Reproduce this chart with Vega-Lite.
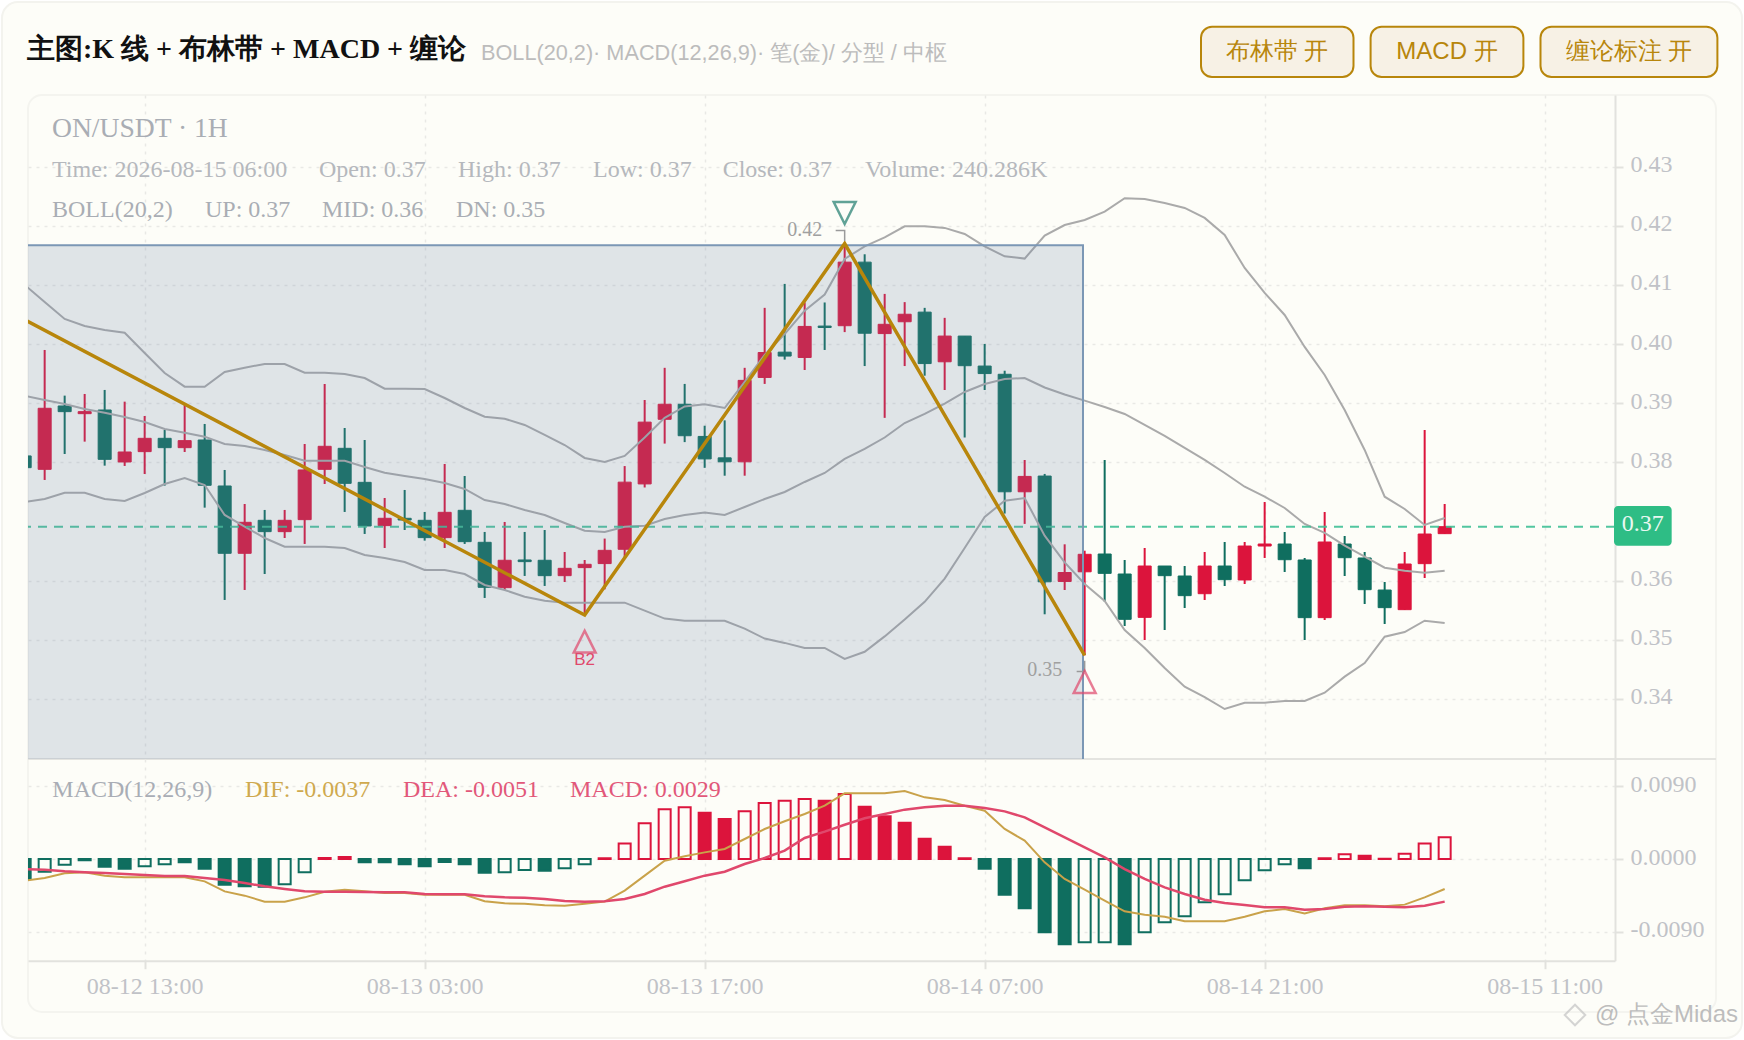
{
  "$schema": "https://vega.github.io/schema/vega-lite/v5.json",
  "background": "#ffffff",
  "padding": {"left": 1, "top": 0, "right": 1, "bottom": 1},
  "spacing": 0,
  "bounds": "flush",
  "config": {
    "font": "Liberation Serif",
    "view": {"stroke": null},
    "axis": {"title": null, "gridColor": "#e9e9e5", "gridDash": [3, 5], "gridWidth": 1.5, "labelFont": "Liberation Serif", "labelFontSize": 24, "labelColor": "#c0c2c7", "domainColor": "#e2e2de", "domainWidth": 2, "tickColor": "#e2e2de", "tickWidth": 2, "tickSize": 8, "labelOverlap": false, "labelFlush": false}
  },
  "datasets": {
    "kline": [
      {"t":"2026-08-12 07:00","open":0.38109,"high":0.3815,"low":0.3785,"close":0.37911,"up":0.41000,"mid":0.39128,"dn":0.37331,"macd":-0.00247,"dif":-0.00268,"dea":-0.00124,"state":"solid"},
      {"t":"2026-08-12 08:00","open":0.37883,"high":0.39901,"low":0.37703,"close":0.38915,"up":0.40712,"mid":0.39055,"dn":0.37381,"macd":-0.00157,"dif":-0.00235,"dea":-0.00132,"state":"hollow"},
      {"t":"2026-08-12 09:00","open":0.38954,"high":0.39129,"low":0.38142,"close":0.38858,"up":0.40425,"mid":0.38988,"dn":0.37488,"macd":-0.0007,"dif":-0.00177,"dea":-0.00152,"state":"hollow"},
      {"t":"2026-08-12 10:00","open":0.38824,"high":0.39157,"low":0.38351,"close":0.38858,"up":0.40307,"mid":0.38903,"dn":0.37488,"macd":-0.00016,"dif":-0.00165,"dea":-0.00165,"state":"solid"},
      {"t":"2026-08-12 11:00","open":0.38886,"high":0.39225,"low":0.37945,"close":0.38052,"up":0.40239,"mid":0.38841,"dn":0.37381,"macd":-0.00095,"dif":-0.00206,"dea":-0.00173,"state":"solid"},
      {"t":"2026-08-12 12:00","open":0.38007,"high":0.39027,"low":0.3794,"close":0.38176,"up":0.40193,"mid":0.38768,"dn":0.37348,"macd":-0.0012,"dif":-0.00227,"dea":-0.00185,"state":"solid"},
      {"t":"2026-08-12 13:00","open":0.38182,"high":0.38785,"low":0.37804,"close":0.38407,"up":0.3985,"mid":0.38683,"dn":0.37483,"macd":-0.0009,"dif":-0.00227,"dea":-0.00198,"state":"hollow"},
      {"t":"2026-08-12 14:00","open":0.38407,"high":0.38548,"low":0.37607,"close":0.38249,"up":0.39512,"mid":0.38565,"dn":0.37635,"macd":-0.00066,"dif":-0.00227,"dea":-0.0021,"state":"hollow"},
      {"t":"2026-08-12 15:00","open":0.38249,"high":0.38988,"low":0.38176,"close":0.38368,"up":0.3928,"mid":0.38503,"dn":0.37737,"macd":-0.00041,"dif":-0.00227,"dea":-0.0021,"state":"solid"},
      {"t":"2026-08-12 16:00","open":0.38379,"high":0.3865,"low":0.37235,"close":0.37613,"up":0.3928,"mid":0.38435,"dn":0.37618,"macd":-0.0012,"dif":-0.00276,"dea":-0.00235,"state":"solid"},
      {"t":"2026-08-12 17:00","open":0.37601,"high":0.37872,"low":0.35674,"close":0.36463,"up":0.39529,"mid":0.38311,"dn":0.37111,"macd":-0.00317,"dif":-0.004,"dea":-0.0026,"state":"solid"},
      {"t":"2026-08-12 18:00","open":0.36463,"high":0.37297,"low":0.35843,"close":0.36987,"up":0.39602,"mid":0.38278,"dn":0.36913,"macd":-0.00338,"dif":-0.00453,"dea":-0.00297,"state":"solid"},
      {"t":"2026-08-12 19:00","open":0.37021,"high":0.37196,"low":0.36113,"close":0.36829,"up":0.39664,"mid":0.3821,"dn":0.36722,"macd":-0.00342,"dif":-0.00527,"dea":-0.00338,"state":"solid"},
      {"t":"2026-08-12 20:00","open":0.36829,"high":0.37196,"low":0.36722,"close":0.37021,"up":0.39664,"mid":0.38125,"dn":0.36575,"macd":-0.00313,"dif":-0.00527,"dea":-0.00371,"state":"hollow"},
      {"t":"2026-08-12 21:00","open":0.37032,"high":0.38311,"low":0.36621,"close":0.37872,"up":0.39517,"mid":0.38029,"dn":0.36575,"macd":-0.00165,"dif":-0.00474,"dea":-0.004,"state":"hollow"},
      {"t":"2026-08-12 22:00","open":0.37883,"high":0.39326,"low":0.37635,"close":0.38272,"up":0.39517,"mid":0.38029,"dn":0.36575,"macd":0.00012,"dif":-0.00404,"dea":-0.00404,"state":"solid"},
      {"t":"2026-08-12 23:00","open":0.38238,"high":0.38582,"low":0.37162,"close":0.37646,"up":0.39495,"mid":0.38029,"dn":0.36553,"macd":0.00025,"dif":-0.00379,"dea":-0.00404,"state":"solid"},
      {"t":"2026-08-13 00:00","open":0.37663,"high":0.38379,"low":0.3679,"close":0.36925,"up":0.39427,"mid":0.37923,"dn":0.36435,"macd":-0.00041,"dif":-0.004,"dea":-0.00408,"state":"solid"},
      {"t":"2026-08-13 01:00","open":0.36931,"high":0.37398,"low":0.36553,"close":0.37055,"up":0.39246,"mid":0.37826,"dn":0.36384,"macd":-0.00041,"dif":-0.0042,"dea":-0.00412,"state":"solid"},
      {"t":"2026-08-13 02:00","open":0.37055,"high":0.37534,"low":0.36857,"close":0.37026,"up":0.39246,"mid":0.3777,"dn":0.36316,"macd":-0.00066,"dif":-0.0042,"dea":-0.00412,"state":"solid"},
      {"t":"2026-08-13 03:00","open":0.37021,"high":0.37162,"low":0.36677,"close":0.36728,"up":0.39241,"mid":0.3772,"dn":0.36181,"macd":-0.0009,"dif":-0.00441,"dea":-0.00433,"state":"solid"},
      {"t":"2026-08-13 04:00","open":0.36728,"high":0.37973,"low":0.36553,"close":0.37156,"up":0.39089,"mid":0.37652,"dn":0.36181,"macd":-0.00037,"dif":-0.00441,"dea":-0.00437,"state":"solid"},
      {"t":"2026-08-13 05:00","open":0.3719,"high":0.3777,"low":0.36621,"close":0.3666,"up":0.3892,"mid":0.37551,"dn":0.36113,"macd":-0.00066,"dif":-0.00441,"dea":-0.00437,"state":"solid"},
      {"t":"2026-08-13 06:00","open":0.36649,"high":0.36824,"low":0.35708,"close":0.35888,"up":0.38773,"mid":0.37364,"dn":0.35927,"macd":-0.00169,"dif":-0.00523,"dea":-0.00461,"state":"solid"},
      {"t":"2026-08-13 07:00","open":0.35882,"high":0.36993,"low":0.35843,"close":0.36345,"up":0.38739,"mid":0.37297,"dn":0.35843,"macd":-0.00165,"dif":-0.00548,"dea":-0.00474,"state":"hollow"},
      {"t":"2026-08-13 08:00","open":0.3635,"high":0.36824,"low":0.3608,"close":0.36322,"up":0.38633,"mid":0.37195,"dn":0.35729,"macd":-0.00136,"dif":-0.00552,"dea":-0.00478,"state":"hollow"},
      {"t":"2026-08-13 09:00","open":0.36345,"high":0.36857,"low":0.35911,"close":0.36085,"up":0.38464,"mid":0.37111,"dn":0.35662,"macd":-0.00144,"dif":-0.00573,"dea":-0.00494,"state":"solid"},
      {"t":"2026-08-13 10:00","open":0.36085,"high":0.36485,"low":0.35978,"close":0.36209,"up":0.38294,"mid":0.36976,"dn":0.35628,"macd":-0.00115,"dif":-0.00577,"dea":-0.00519,"state":"hollow"},
      {"t":"2026-08-13 11:00","open":0.36221,"high":0.3635,"low":0.3542,"close":0.36277,"up":0.38075,"mid":0.36845,"dn":0.35628,"macd":-0.00066,"dif":-0.00552,"dea":-0.00527,"state":"hollow"},
      {"t":"2026-08-13 12:00","open":0.36289,"high":0.36712,"low":0.35854,"close":0.36513,"up":0.38007,"mid":0.36823,"dn":0.35628,"macd":0.0001,"dif":-0.00527,"dea":-0.00523,"state":"solid"},
      {"t":"2026-08-13 13:00","open":0.36531,"high":0.37938,"low":0.36398,"close":0.37666,"up":0.38109,"mid":0.36911,"dn":0.35628,"macd":0.00193,"dif":-0.00391,"dea":-0.00494,"state":"hollow"},
      {"t":"2026-08-13 14:00","open":0.37636,"high":0.39055,"low":0.37576,"close":0.38681,"up":0.38421,"mid":0.3693,"dn":0.35493,"macd":0.00441,"dif":-0.00206,"dea":-0.00433,"state":"hollow"},
      {"t":"2026-08-13 15:00","open":0.38729,"high":0.39599,"low":0.38318,"close":0.38983,"up":0.38753,"mid":0.37043,"dn":0.35359,"macd":0.00614,"dif":-0.00021,"dea":-0.00342,"state":"hollow"},
      {"t":"2026-08-13 16:00","open":0.38983,"high":0.39327,"low":0.38343,"close":0.38451,"up":0.38947,"mid":0.37111,"dn":0.35323,"macd":0.00639,"dif":0.00033,"dea":-0.00276,"state":"hollow"},
      {"t":"2026-08-13 17:00","open":0.38439,"high":0.3862,"low":0.37908,"close":0.38059,"up":0.38983,"mid":0.37153,"dn":0.35323,"macd":0.00573,"dif":0.00082,"dea":-0.00206,"state":"solid"},
      {"t":"2026-08-13 18:00","open":0.38077,"high":0.38711,"low":0.37775,"close":0.3801,"up":0.3892,"mid":0.37111,"dn":0.35323,"macd":0.00494,"dif":0.00124,"dea":-0.00157,"state":"solid"},
      {"t":"2026-08-13 19:00","open":0.3801,"high":0.39599,"low":0.37775,"close":0.39387,"up":0.3936,"mid":0.37246,"dn":0.3519,"macd":0.00589,"dif":0.00247,"dea":-0.00062,"state":"hollow"},
      {"t":"2026-08-13 20:00","open":0.39436,"high":0.40613,"low":0.39327,"close":0.39858,"up":0.39816,"mid":0.37381,"dn":0.35021,"macd":0.00692,"dif":0.00371,"dea":0.00012,"state":"hollow"},
      {"t":"2026-08-13 21:00","open":0.39864,"high":0.41018,"low":0.39738,"close":0.39798,"up":0.40171,"mid":0.375,"dn":0.34948,"macd":0.00721,"dif":0.00466,"dea":0.00103,"state":"hollow"},
      {"t":"2026-08-13 22:00","open":0.39774,"high":0.40704,"low":0.39562,"close":0.40299,"up":0.40565,"mid":0.37669,"dn":0.34862,"macd":0.00742,"dif":0.00556,"dea":0.0026,"state":"hollow"},
      {"t":"2026-08-13 23:00","open":0.40305,"high":0.40704,"low":0.39901,"close":0.40281,"up":0.40838,"mid":0.37821,"dn":0.34862,"macd":0.00721,"dif":0.00659,"dea":0.00338,"state":"solid"},
      {"t":"2026-08-14 00:00","open":0.40311,"high":0.417,"low":0.40203,"close":0.41386,"up":0.4144,"mid":0.38058,"dn":0.34676,"macd":0.00803,"dif":0.00812,"dea":0.00424,"state":"hollow"},
      {"t":"2026-08-14 01:00","open":0.41386,"high":0.41519,"low":0.39629,"close":0.40184,"up":0.41653,"mid":0.38227,"dn":0.34798,"macd":0.00646,"dif":0.00812,"dea":0.00503,"state":"solid"},
      {"t":"2026-08-14 02:00","open":0.40178,"high":0.40849,"low":0.38753,"close":0.40335,"up":0.41803,"mid":0.38421,"dn":0.35058,"macd":0.00527,"dif":0.00812,"dea":0.00556,"state":"solid"},
      {"t":"2026-08-14 03:00","open":0.40378,"high":0.4071,"low":0.39629,"close":0.40505,"up":0.41991,"mid":0.38666,"dn":0.35342,"macd":0.00449,"dif":0.0084,"dea":0.0061,"state":"solid"},
      {"t":"2026-08-14 04:00","open":0.40541,"high":0.40613,"low":0.39466,"close":0.39671,"up":0.41991,"mid":0.38819,"dn":0.35643,"macd":0.00251,"dif":0.00762,"dea":0.00639,"state":"solid"},
      {"t":"2026-08-14 05:00","open":0.39701,"high":0.40444,"low":0.39224,"close":0.40136,"up":0.41965,"mid":0.38994,"dn":0.36036,"macd":0.00152,"dif":0.00729,"dea":0.00659,"state":"solid"},
      {"t":"2026-08-14 06:00","open":0.40136,"high":0.40136,"low":0.38421,"close":0.39635,"up":0.41862,"mid":0.39191,"dn":0.36553,"macd":0.00008,"dif":0.00659,"dea":0.00659,"state":"solid"},
      {"t":"2026-08-14 07:00","open":0.39629,"high":0.40003,"low":0.39224,"close":0.39502,"up":0.41653,"mid":0.39326,"dn":0.37077,"macd":-0.0012,"dif":0.00597,"dea":0.0063,"state":"solid"},
      {"t":"2026-08-14 08:00","open":0.3949,"high":0.3955,"low":0.37135,"close":0.37503,"up":0.41484,"mid":0.3941,"dn":0.37353,"macd":-0.00441,"dif":0.00371,"dea":0.00589,"state":"solid"},
      {"t":"2026-08-14 09:00","open":0.37503,"high":0.38041,"low":0.3696,"close":0.37763,"up":0.41446,"mid":0.39427,"dn":0.37398,"macd":-0.0061,"dif":0.00227,"dea":0.00515,"state":"solid"},
      {"t":"2026-08-14 10:00","open":0.37769,"high":0.37805,"low":0.35432,"close":0.35981,"up":0.41834,"mid":0.39267,"dn":0.36761,"macd":-0.00906,"dif":-0.00041,"dea":0.00391,"state":"solid"},
      {"t":"2026-08-14 11:00","open":0.35987,"high":0.36615,"low":0.35842,"close":0.36138,"up":0.42014,"mid":0.39147,"dn":0.36308,"macd":-0.01055,"dif":-0.00247,"dea":0.00268,"state":"solid"},
      {"t":"2026-08-14 12:00","open":0.3615,"high":0.36507,"low":0.34737,"close":0.36446,"up":0.42099,"mid":0.39044,"dn":0.35944,"macd":-0.0103,"dif":-0.00379,"dea":0.00144,"state":"hollow"},
      {"t":"2026-08-14 13:00","open":0.36451,"high":0.38041,"low":0.35645,"close":0.36124,"up":0.42239,"mid":0.38937,"dn":0.35657,"macd":-0.0103,"dif":-0.00515,"dea":0.00021,"state":"hollow"},
      {"t":"2026-08-14 14:00","open":0.36113,"high":0.3635,"low":0.35234,"close":0.35347,"up":0.42466,"mid":0.38819,"dn":0.35166,"macd":-0.01055,"dif":-0.00647,"dea":-0.00124,"state":"solid"},
      {"t":"2026-08-14 15:00","open":0.3538,"high":0.36553,"low":0.34997,"close":0.36248,"up":0.42454,"mid":0.38633,"dn":0.34862,"macd":-0.00906,"dif":-0.00688,"dea":-0.00247,"state":"hollow"},
      {"t":"2026-08-14 16:00","open":0.36248,"high":0.36248,"low":0.35166,"close":0.36085,"up":0.42386,"mid":0.38447,"dn":0.34524,"macd":-0.00783,"dif":-0.00713,"dea":-0.0035,"state":"hollow"},
      {"t":"2026-08-14 17:00","open":0.36079,"high":0.36248,"low":0.35538,"close":0.35747,"up":0.42302,"mid":0.38244,"dn":0.34208,"macd":-0.00709,"dif":-0.0077,"dea":-0.00433,"state":"hollow"},
      {"t":"2026-08-14 18:00","open":0.3578,"high":0.36485,"low":0.35673,"close":0.36248,"up":0.42133,"mid":0.38041,"dn":0.34033,"macd":-0.00536,"dif":-0.0077,"dea":-0.00503,"state":"hollow"},
      {"t":"2026-08-14 19:00","open":0.36248,"high":0.36654,"low":0.3591,"close":0.36017,"up":0.41845,"mid":0.37821,"dn":0.3383,"macd":-0.00437,"dif":-0.0077,"dea":-0.00544,"state":"hollow"},
      {"t":"2026-08-14 20:00","open":0.36012,"high":0.36654,"low":0.35944,"close":0.36586,"up":0.41287,"mid":0.37589,"dn":0.33937,"macd":-0.00264,"dif":-0.00713,"dea":-0.00569,"state":"hollow"},
      {"t":"2026-08-14 21:00","open":0.36586,"high":0.3733,"low":0.36384,"close":0.3662,"up":0.40865,"mid":0.3742,"dn":0.33937,"macd":-0.0014,"dif":-0.00647,"dea":-0.00597,"state":"hollow"},
      {"t":"2026-08-14 22:00","open":0.3662,"high":0.36823,"low":0.36147,"close":0.36355,"up":0.40493,"mid":0.37229,"dn":0.33966,"macd":-0.00066,"dif":-0.00618,"dea":-0.00597,"state":"hollow"},
      {"t":"2026-08-14 23:00","open":0.3635,"high":0.36384,"low":0.34997,"close":0.35375,"up":0.39952,"mid":0.36959,"dn":0.33966,"macd":-0.00115,"dif":-0.00672,"dea":-0.00626,"state":"solid"},
      {"t":"2026-08-15 00:00","open":0.35375,"high":0.37161,"low":0.35335,"close":0.36654,"up":0.39478,"mid":0.36807,"dn":0.34106,"macd":0.00008,"dif":-0.0061,"dea":-0.00618,"state":"solid"},
      {"t":"2026-08-15 01:00","open":0.3662,"high":0.36756,"low":0.36079,"close":0.36389,"up":0.38886,"mid":0.36592,"dn":0.34377,"macd":0.0006,"dif":-0.00573,"dea":-0.00589,"state":"hollow"},
      {"t":"2026-08-15 02:00","open":0.36384,"high":0.36485,"low":0.35606,"close":0.35848,"up":0.3821,"mid":0.36406,"dn":0.34608,"macd":0.00041,"dif":-0.00573,"dea":-0.00585,"state":"solid"},
      {"t":"2026-08-15 03:00","open":0.35842,"high":0.35978,"low":0.35268,"close":0.35544,"up":0.3742,"mid":0.3622,"dn":0.35053,"macd":0.00004,"dif":-0.00585,"dea":-0.00589,"state":"solid"},
      {"t":"2026-08-15 04:00","open":0.3551,"high":0.36485,"low":0.35504,"close":0.36282,"up":0.37212,"mid":0.36169,"dn":0.35132,"macd":0.00066,"dif":-0.00564,"dea":-0.00597,"state":"hollow"},
      {"t":"2026-08-15 05:00","open":0.36288,"high":0.38548,"low":0.36045,"close":0.36789,"up":0.36942,"mid":0.36135,"dn":0.35323,"macd":0.00193,"dif":-0.00474,"dea":-0.00577,"state":"hollow"},
      {"t":"2026-08-15 06:00","open":0.36795,"high":0.37297,"low":0.36789,"close":0.36913,"up":0.3706,"mid":0.36169,"dn":0.35285,"macd":0.00268,"dif":-0.00371,"dea":-0.00527,"state":"hollow"}
    ],
    "pen": [
      {"t":"2026-08-12 07:00","price":0.40412},
      {"t":"2026-08-13 11:00","price":0.3542},
      {"t":"2026-08-14 00:00","price":0.417},
      {"t":"2026-08-14 12:00","price":0.34737}
    ],
    "leaders": [
      {"t":"2026-08-13 23:33","price":0.41923,"pivot":"top"},
      {"t":"2026-08-14 00:00","price":0.41923,"pivot":"top"},
      {"t":"2026-08-14 00:00","price":0.41744,"pivot":"top"},
      {"t":"2026-08-14 11:36","price":0.34466,"pivot":"bottom"},
      {"t":"2026-08-14 12:00","price":0.34466,"pivot":"bottom"},
      {"t":"2026-08-14 12:00","price":0.34647,"pivot":"bottom"}
    ]
  },
  "vconcat": [
    {
      "width": 1716,
      "height": 95,
      "data": {"values": [{}]},
      "encoding": {
        "x": {"datum": 28, "type": "quantitative", "scale": {"domain": [28, 1744], "nice": false, "zero": false}, "axis": null},
        "y": {"datum": 0, "type": "quantitative", "scale": {"domain": [95, 0], "nice": false, "zero": false}, "axis": null}
      },
      "layer": [
        {"mark": {"type": "rect", "fill": "#fdfdf8", "stroke": "#f3f3ee", "strokeWidth": 2, "cornerRadius": 16},
          "encoding": {"x": {"datum": 2}, "x2": {"datum": 1742}, "y": {"datum": 2}, "y2": {"datum": 1038}}},
        {"mark": {"type": "rect", "fill": "#fdfdf8", "stroke": "#f4f4ef", "strokeWidth": 2, "cornerRadius": 14},
          "encoding": {"x": {"datum": 28}, "x2": {"datum": 1716}, "y": {"datum": 95}, "y2": {"datum": 1012}}},
        {"mark": {"type": "rule", "stroke": "#e4e4e0", "strokeWidth": 2},
          "encoding": {"x": {"datum": 28}, "x2": {"datum": 1716}, "y": {"datum": 759}}},
        {"mark": {"type": "text", "align": "left", "baseline": "middle", "font": "Liberation Serif", "fontSize": 28, "fontWeight": "bold", "color": "#111111"},
          "encoding": {"x": {"datum": 27}, "y": {"datum": 50}, "text": {"value": "主图:K 线 + 布林带 + MACD + 缠论"}}},
        {"mark": {"type": "text", "align": "left", "baseline": "middle", "font": "Liberation Sans", "fontSize": 21.7, "color": "#bcbcbc"},
          "encoding": {"x": {"datum": 481}, "y": {"datum": 53}, "text": {"value": "BOLL(20,2)· MACD(12,26,9)· 笔(金)/ 分型 / 中枢"}}},
        {"mark": {"type": "rect", "fill": "#f7f1e5", "stroke": "#b8860b", "strokeWidth": 2, "cornerRadius": 11},
          "encoding": {"x": {"datum": 1201}, "x2": {"datum": 1353.5}, "y": {"datum": 26.7}, "y2": {"datum": 77}}},
        {"mark": {"type": "rect", "fill": "#f7f1e5", "stroke": "#b8860b", "strokeWidth": 2, "cornerRadius": 11},
          "encoding": {"x": {"datum": 1370.6}, "x2": {"datum": 1523.4}, "y": {"datum": 26.7}, "y2": {"datum": 77}}},
        {"mark": {"type": "rect", "fill": "#f7f1e5", "stroke": "#b8860b", "strokeWidth": 2, "cornerRadius": 11},
          "encoding": {"x": {"datum": 1540.5}, "x2": {"datum": 1717.4}, "y": {"datum": 26.7}, "y2": {"datum": 77}}},
        {"mark": {"type": "text", "align": "center", "baseline": "middle", "font": "Liberation Sans", "fontSize": 24, "color": "#b8860b"},
          "encoding": {"x": {"datum": 1277}, "y": {"datum": 52}, "text": {"value": "布林带 开"}}},
        {"mark": {"type": "text", "align": "center", "baseline": "middle", "font": "Liberation Sans", "fontSize": 24, "color": "#b8860b"},
          "encoding": {"x": {"datum": 1447}, "y": {"datum": 52}, "text": {"value": "MACD 开"}}},
        {"mark": {"type": "text", "align": "center", "baseline": "middle", "font": "Liberation Sans", "fontSize": 24, "color": "#b8860b"},
          "encoding": {"x": {"datum": 1629}, "y": {"datum": 52}, "text": {"value": "缠论标注 开"}}},
        {"mark": {"type": "point", "shape": "diamond", "filled": false, "size": 420, "stroke": "#c4c4c4", "strokeWidth": 2},
          "encoding": {"x": {"datum": 1575}, "y": {"datum": 1015}}},
        {"mark": {"type": "text", "align": "left", "baseline": "middle", "font": "Liberation Sans", "fontSize": 24, "color": "#bdbdbd"},
          "encoding": {"x": {"datum": 1595}, "y": {"datum": 1015}, "text": {"value": "@ 点金Midas"}}}
      ]
    },
    {
      "width": 1587,
      "height": 664,
      "layer": [
        {
          "data": {"name": "kline"},
          "mark": {"type": "rule", "strokeWidth": 2, "clip": true},
          "encoding": {
            "x": {"field": "t", "type": "temporal", "scale": {"domain": ["2026-08-12 07:10", "2026-08-15 14:31"], "nice": false, "padding": 0},
              "axis": {"values": ["2026-08-12 13:00", "2026-08-13 03:00", "2026-08-13 17:00", "2026-08-14 07:00", "2026-08-14 21:00", "2026-08-15 11:00"], "labels": false, "ticks": false, "domain": false, "grid": true}},
            "y": {"field": "high", "type": "quantitative", "scale": {"domain": [0.32985, 0.44212], "nice": false, "zero": false},
              "axis": {"orient": "right", "values": [0.34, 0.35, 0.36, 0.38, 0.39, 0.40, 0.41, 0.42, 0.43], "format": ".2f", "grid": true, "labelPadding": 7, "labelOffset": -2}},
            "y2": {"field": "low"},
            "color": {"condition": {"test": "datum.close >= datum.open", "value": "#DC143C"}, "value": "#0F6E5F"}
          }
        },
        {
          "data": {"name": "kline"},
          "mark": {"type": "bar", "width": 13, "strokeWidth": 1, "clip": true},
          "encoding": {
            "x": {"field": "t", "type": "temporal"},
            "y": {"field": "open", "type": "quantitative"},
            "y2": {"field": "close"},
            "fill": {"condition": {"test": "datum.close >= datum.open", "value": "#DC143C"}, "value": "#0F6E5F"},
            "stroke": {"condition": {"test": "datum.close >= datum.open", "value": "#DC143C"}, "value": "#0F6E5F"}
          }
        },
        {
          "data": {"name": "kline"},
          "mark": {"type": "line", "stroke": "#aaaaaa", "strokeWidth": 2, "clip": true},
          "encoding": {"x": {"field": "t", "type": "temporal"}, "y": {"field": "up", "type": "quantitative"}}
        },
        {
          "data": {"name": "kline"},
          "mark": {"type": "line", "stroke": "#aaaaaa", "strokeWidth": 2, "clip": true},
          "encoding": {"x": {"field": "t", "type": "temporal"}, "y": {"field": "mid", "type": "quantitative"}}
        },
        {
          "data": {"name": "kline"},
          "mark": {"type": "line", "stroke": "#aaaaaa", "strokeWidth": 2, "clip": true},
          "encoding": {"x": {"field": "t", "type": "temporal"}, "y": {"field": "dn", "type": "quantitative"}}
        },
        {
          "data": {"values": [{}]},
          "mark": {"type": "rule", "stroke": "#3fc096", "strokeWidth": 2, "strokeDash": [9, 7], "opacity": 0.9},
          "encoding": {"y": {"datum": 0.3691}}
        },
        {
          "data": {"values": [{}]},
          "mark": {"type": "rect", "fill": "#6a80a4", "fillOpacity": 0.2, "stroke": "#7b97b5", "strokeWidth": 2, "clip": true},
          "encoding": {
            "x": {"datum": {"year": 2026, "month": 8, "date": 12, "hours": 5}, "type": "temporal"},
            "x2": {"datum": {"year": 2026, "month": 8, "date": 14, "hours": 11, "minutes": 55}},
            "y": {"datum": 0.4167},
            "y2": {"datum": 0.32}
          }
        },
        {
          "data": {"name": "pen"},
          "mark": {"type": "line", "stroke": "#b8860b", "strokeWidth": 3.5, "clip": true},
          "encoding": {"x": {"field": "t", "type": "temporal"}, "y": {"field": "price", "type": "quantitative"}}
        },
        {
          "data": {"name": "leaders"},
          "mark": {"type": "line", "stroke": "#9a9a9a", "strokeWidth": 1.5},
          "encoding": {"x": {"field": "t", "type": "temporal"}, "y": {"field": "price", "type": "quantitative"}, "detail": {"field": "pivot"}}
        },
        {
          "data": {"values": [{}]},
          "mark": {"type": "point", "shape": "M-1,1L1,1L0,-1Z", "filled": false, "size": 480, "stroke": "#e0486c", "strokeWidth": 2.5},
          "encoding": {"x": {"datum": {"year": 2026, "month": 8, "date": 13, "hours": 11}, "type": "temporal"}, "y": {"datum": 0.34969}}
        },
        {
          "data": {"values": [{}]},
          "mark": {"type": "point", "shape": "M-1,1L1,1L0,-1Z", "filled": false, "size": 480, "stroke": "#e0486c", "strokeWidth": 2.5},
          "encoding": {"x": {"datum": {"year": 2026, "month": 8, "date": 14, "hours": 12}, "type": "temporal"}, "y": {"datum": 0.34287}}
        },
        {
          "data": {"values": [{}]},
          "mark": {"type": "point", "shape": "M-1,-1L1,-1L0,1Z", "filled": false, "size": 480, "stroke": "#1f7c6e", "strokeWidth": 2.5},
          "encoding": {"x": {"datum": {"year": 2026, "month": 8, "date": 14, "hours": 0}, "type": "temporal"}, "y": {"datum": 0.42217}}
        },
        {
          "data": {"values": [{}]},
          "mark": {"type": "text", "fontSize": 17, "font": "Liberation Sans", "color": "#e0486c", "baseline": "middle"},
          "encoding": {"x": {"datum": {"year": 2026, "month": 8, "date": 13, "hours": 11}, "type": "temporal"}, "y": {"datum": 0.34659}, "text": {"value": "B2"}}
        },
        {
          "data": {"values": [{}]},
          "mark": {"type": "text", "fontSize": 20, "color": "#a0a0a0", "baseline": "middle"},
          "encoding": {"x": {"datum": {"year": 2026, "month": 8, "date": 13, "hours": 22}, "type": "temporal"}, "y": {"datum": 0.41937}, "text": {"value": "0.42"}}
        },
        {
          "data": {"values": [{}]},
          "mark": {"type": "text", "fontSize": 20, "color": "#a0a0a0", "baseline": "middle"},
          "encoding": {"x": {"datum": {"year": 2026, "month": 8, "date": 14, "hours": 10}, "type": "temporal"}, "y": {"datum": 0.34497}, "text": {"value": "0.35"}}
        },
        {
          "data": {"values": [{}]},
          "mark": {"type": "text", "align": "left", "baseline": "middle", "fontSize": 27.6, "color": "#a9adb4"},
          "encoding": {"x": {"datum": {"year": 2026, "month": 8, "date": 12, "hours": 8, "minutes": 22}, "type": "temporal"}, "y": {"datum": 0.43638}, "text": {"value": "ON/USDT · 1H"}}
        },
        {
          "data": {"values": [{}]},
          "mark": {"type": "text", "align": "left", "baseline": "middle", "fontSize": 24, "color": "#b5b8bd"},
          "encoding": {"x": {"datum": {"year": 2026, "month": 8, "date": 12, "hours": 8, "minutes": 22}, "type": "temporal"}, "y": {"datum": 0.42944}, "text": {"value": "Time: 2026-08-15 06:00"}}
        },
        {
          "data": {"values": [{}]},
          "mark": {"type": "text", "align": "left", "baseline": "middle", "fontSize": 24, "color": "#b5b8bd"},
          "encoding": {"x": {"datum": {"year": 2026, "month": 8, "date": 12, "hours": 21, "minutes": 43}, "type": "temporal"}, "y": {"datum": 0.42944}, "text": {"value": "Open: 0.37"}}
        },
        {
          "data": {"values": [{}]},
          "mark": {"type": "text", "align": "left", "baseline": "middle", "fontSize": 24, "color": "#b5b8bd"},
          "encoding": {"x": {"datum": {"year": 2026, "month": 8, "date": 13, "hours": 4, "minutes": 40}, "type": "temporal"}, "y": {"datum": 0.42944}, "text": {"value": "High: 0.37"}}
        },
        {
          "data": {"values": [{}]},
          "mark": {"type": "text", "align": "left", "baseline": "middle", "fontSize": 24, "color": "#b5b8bd"},
          "encoding": {"x": {"datum": {"year": 2026, "month": 8, "date": 13, "hours": 11, "minutes": 25}, "type": "temporal"}, "y": {"datum": 0.42944}, "text": {"value": "Low: 0.37"}}
        },
        {
          "data": {"values": [{}]},
          "mark": {"type": "text", "align": "left", "baseline": "middle", "fontSize": 24, "color": "#b5b8bd"},
          "encoding": {"x": {"datum": {"year": 2026, "month": 8, "date": 13, "hours": 17, "minutes": 54}, "type": "temporal"}, "y": {"datum": 0.42944}, "text": {"value": "Close: 0.37"}}
        },
        {
          "data": {"values": [{}]},
          "mark": {"type": "text", "align": "left", "baseline": "middle", "fontSize": 24, "color": "#b5b8bd"},
          "encoding": {"x": {"datum": {"year": 2026, "month": 8, "date": 14, "hours": 1, "minutes": 1}, "type": "temporal"}, "y": {"datum": 0.42944}, "text": {"value": "Volume: 240.286K"}}
        },
        {
          "data": {"values": [{}]},
          "mark": {"type": "text", "align": "left", "baseline": "middle", "fontSize": 24, "color": "#a9adb4"},
          "encoding": {"x": {"datum": {"year": 2026, "month": 8, "date": 12, "hours": 8, "minutes": 22}, "type": "temporal"}, "y": {"datum": 0.42268}, "text": {"value": "BOLL(20,2)"}}
        },
        {
          "data": {"values": [{}]},
          "mark": {"type": "text", "align": "left", "baseline": "middle", "fontSize": 24, "color": "#a9adb4"},
          "encoding": {"x": {"datum": {"year": 2026, "month": 8, "date": 12, "hours": 16, "minutes": 1}, "type": "temporal"}, "y": {"datum": 0.42268}, "text": {"value": "UP: 0.37"}}
        },
        {
          "data": {"values": [{}]},
          "mark": {"type": "text", "align": "left", "baseline": "middle", "fontSize": 24, "color": "#a9adb4"},
          "encoding": {"x": {"datum": {"year": 2026, "month": 8, "date": 12, "hours": 21, "minutes": 52}, "type": "temporal"}, "y": {"datum": 0.42268}, "text": {"value": "MID: 0.36"}}
        },
        {
          "data": {"values": [{}]},
          "mark": {"type": "text", "align": "left", "baseline": "middle", "fontSize": 24, "color": "#a9adb4"},
          "encoding": {"x": {"datum": {"year": 2026, "month": 8, "date": 13, "hours": 4, "minutes": 34}, "type": "temporal"}, "y": {"datum": 0.42268}, "text": {"value": "DN: 0.35"}}
        },
        {
          "data": {"values": [{}]},
          "mark": {"type": "rect", "fill": "#2ebd85", "cornerRadius": 4},
          "encoding": {
            "x": {"datum": {"year": 2026, "month": 8, "date": 15, "hours": 14, "minutes": 28}, "type": "temporal"},
            "x2": {"datum": {"year": 2026, "month": 8, "date": 15, "hours": 17, "minutes": 21}},
            "y": {"datum": 0.37263},
            "y2": {"datum": 0.36592}
          }
        },
        {
          "data": {"values": [{}]},
          "mark": {"type": "text", "fontSize": 24, "color": "#e9f8f1", "baseline": "middle"},
          "encoding": {"x": {"datum": {"year": 2026, "month": 8, "date": 15, "hours": 15, "minutes": 54}, "type": "temporal"}, "y": {"datum": 0.36959}, "text": {"value": "0.37"}}
        }
      ]
    },
    {
      "width": 1587,
      "height": 201.7,
      "layer": [
        {
          "data": {"name": "kline"},
          "mark": {"type": "bar", "width": 12, "strokeWidth": 2, "clip": true},
          "encoding": {
            "x": {"field": "t", "type": "temporal", "scale": {"domain": ["2026-08-12 07:10", "2026-08-15 14:31"], "nice": false, "padding": 0},
              "axis": {"values": ["2026-08-12 13:00", "2026-08-13 03:00", "2026-08-13 17:00", "2026-08-14 07:00", "2026-08-14 21:00", "2026-08-15 11:00"], "format": "%m-%d %H:%M", "grid": true, "labelPadding": 6}},
            "y": {"field": "macd", "type": "quantitative", "scale": {"domain": [-0.01257, 0.01236], "nice": false, "zero": false},
              "axis": {"orient": "right", "values": [-0.009, 0, 0.009], "format": ".4f", "labelExpr": "replace(datum.label, '−', '-')", "grid": true, "labelPadding": 7, "labelOffset": -2}},
            "fill": {"condition": [{"test": "datum.state == 'hollow'", "value": "transparent"}, {"test": "datum.macd >= 0", "value": "#DC143C"}], "value": "#0F6E5F"},
            "stroke": {"condition": {"test": "datum.macd >= 0", "value": "#DC143C"}, "value": "#0F6E5F"}
          }
        },
        {
          "data": {"name": "kline"},
          "mark": {"type": "line", "stroke": "#c9a24a", "strokeWidth": 2, "clip": true},
          "encoding": {"x": {"field": "t", "type": "temporal"}, "y": {"field": "dif", "type": "quantitative"}}
        },
        {
          "data": {"name": "kline"},
          "mark": {"type": "line", "stroke": "#e0486c", "strokeWidth": 2.5, "clip": true},
          "encoding": {"x": {"field": "t", "type": "temporal"}, "y": {"field": "dea", "type": "quantitative"}}
        },
        {
          "data": {"values": [{}]},
          "mark": {"type": "text", "align": "left", "baseline": "middle", "fontSize": 24, "color": "#a9adb5"},
          "encoding": {"x": {"datum": {"year": 2026, "month": 8, "date": 12, "hours": 8, "minutes": 23}, "type": "temporal"}, "y": {"datum": 0.00853}, "text": {"value": "MACD(12,26,9)"}}
        },
        {
          "data": {"values": [{}]},
          "mark": {"type": "text", "align": "left", "baseline": "middle", "fontSize": 24, "color": "#cfa94f"},
          "encoding": {"x": {"datum": {"year": 2026, "month": 8, "date": 12, "hours": 18, "minutes": 1}, "type": "temporal"}, "y": {"datum": 0.00853}, "text": {"value": "DIF: -0.0037"}}
        },
        {
          "data": {"values": [{}]},
          "mark": {"type": "text", "align": "left", "baseline": "middle", "fontSize": 24, "color": "#e2587a"},
          "encoding": {"x": {"datum": {"year": 2026, "month": 8, "date": 13, "hours": 1, "minutes": 55}, "type": "temporal"}, "y": {"datum": 0.00853}, "text": {"value": "DEA: -0.0051"}}
        },
        {
          "data": {"values": [{}]},
          "mark": {"type": "text", "align": "left", "baseline": "middle", "fontSize": 24, "color": "#e2587a"},
          "encoding": {"x": {"datum": {"year": 2026, "month": 8, "date": 13, "hours": 10, "minutes": 16}, "type": "temporal"}, "y": {"datum": 0.00853}, "text": {"value": "MACD: 0.0029"}}
        }
      ]
    }
  ]
}
